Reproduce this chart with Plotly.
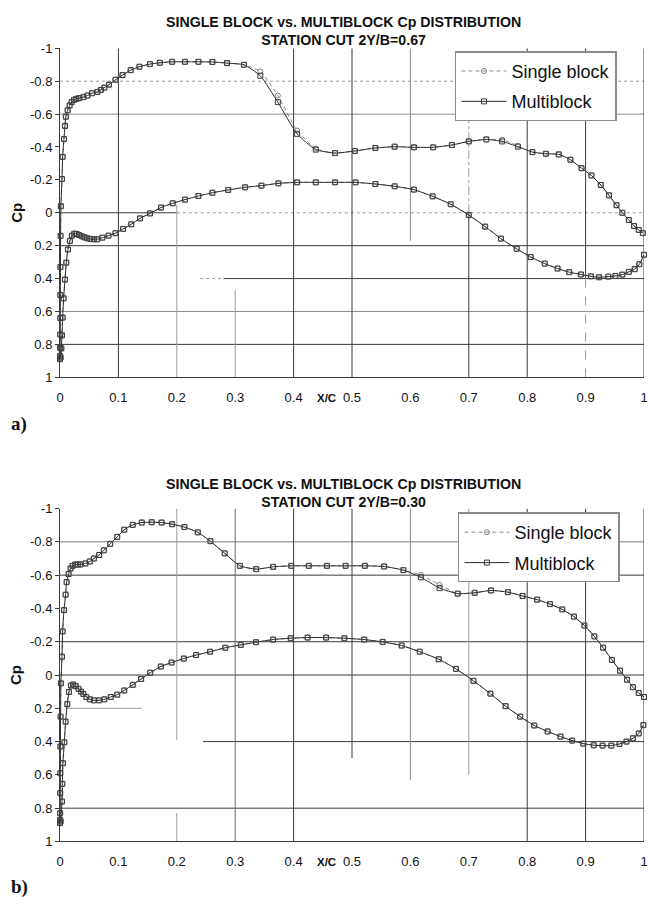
import plotly.graph_objects as go

# ---------------- DATA ----------------
# Panel a) station cut 2Y/B = 0.67
A_X_UP = [0.0, 0.0002, 0.0003, 0.0004, 0.0005, 0.0006, 0.0008, 0.0010, 0.0015,
          0.0034, 0.0045, 0.0068, 0.0085, 0.010, 0.013, 0.0165, 0.020, 0.024, 0.028,
          0.033, 0.040, 0.047, 0.055, 0.064, 0.070, 0.076, 0.084, 0.095, 0.107,
          0.121, 0.136, 0.154, 0.171, 0.192, 0.214, 0.237, 0.261, 0.286, 0.315,
          0.343, 0.373, 0.406, 0.438, 0.471, 0.505, 0.540, 0.573, 0.606, 0.639,
          0.671, 0.700, 0.730, 0.757, 0.784, 0.809, 0.832, 0.854, 0.874, 0.893,
          0.910, 0.926, 0.940, 0.953, 0.963, 0.974, 0.983, 0.991, 0.998]
A_CP_UP_MULTI = [0.89, 0.87, 0.82, 0.74, 0.64, 0.50, 0.33, 0.14, -0.04,
                 -0.205, -0.34, -0.448, -0.528, -0.584, -0.623, -0.653, -0.673, -0.687, -0.693,
                 -0.697, -0.703, -0.713, -0.727, -0.735, -0.747, -0.761, -0.779, -0.809, -0.837,
                 -0.867, -0.888, -0.904, -0.912, -0.918, -0.918, -0.918, -0.917, -0.910, -0.900,
                 -0.833, -0.673, -0.480, -0.384, -0.363, -0.376, -0.394, -0.402, -0.398, -0.398,
                 -0.412, -0.434, -0.446, -0.434, -0.402, -0.369, -0.359, -0.355, -0.323, -0.271,
                 -0.227, -0.169, -0.106, -0.046, 0.0, 0.044, 0.080, 0.104, 0.124]
A_CP_UP_SINGLE = [0.89, 0.87, 0.82, 0.74, 0.64, 0.50, 0.33, 0.14, -0.04,
                  -0.205, -0.34, -0.448, -0.528, -0.584, -0.623, -0.653, -0.673, -0.687, -0.693,
                  -0.697, -0.703, -0.713, -0.727, -0.735, -0.747, -0.761, -0.779, -0.809, -0.837,
                  -0.867, -0.888, -0.904, -0.912, -0.918, -0.918, -0.918, -0.917, -0.910, -0.900,
                  -0.859, -0.713, -0.500, -0.390, -0.363, -0.376, -0.394, -0.402, -0.398, -0.398,
                  -0.412, -0.434, -0.446, -0.444, -0.408, -0.369, -0.359, -0.355, -0.323, -0.271,
                  -0.227, -0.169, -0.106, -0.046, 0.0, 0.044, 0.080, 0.104, 0.124]
A_X_LO = [0.0010, 0.0023, 0.0034, 0.0045, 0.0062, 0.0085, 0.0108, 0.0136, 0.017, 0.0204,
          0.0244, 0.0284, 0.0329, 0.0374, 0.042, 0.0465, 0.052, 0.058, 0.0635, 0.0726,
          0.083, 0.095, 0.108, 0.122, 0.137, 0.154, 0.173, 0.193, 0.214, 0.237,
          0.261, 0.288, 0.317, 0.345, 0.374, 0.406, 0.438, 0.471, 0.506, 0.540,
          0.573, 0.606, 0.638, 0.669, 0.700, 0.728, 0.755, 0.782, 0.806, 0.830,
          0.852, 0.872, 0.892, 0.909, 0.923, 0.939, 0.951, 0.963, 0.974, 0.984,
          0.992, 1.000]
A_CP_LO_MULTI = [0.88, 0.825, 0.745, 0.637, 0.52, 0.406, 0.303, 0.223, 0.171, 0.139,
                 0.127, 0.129, 0.135, 0.143, 0.149, 0.155, 0.159, 0.161, 0.161, 0.151,
                 0.139, 0.124, 0.098, 0.070, 0.034, 0.004, -0.032, -0.058, -0.080, -0.102,
                 -0.122, -0.139, -0.155, -0.165, -0.179, -0.185, -0.185, -0.185, -0.185, -0.175,
                 -0.161, -0.141, -0.100, -0.052, 0.014, 0.084, 0.157, 0.219, 0.269, 0.309,
                 0.339, 0.361, 0.375, 0.386, 0.392, 0.388, 0.384, 0.376, 0.359, 0.343,
                 0.313, 0.255]
A_CP_LO_SINGLE = [0.88, 0.825, 0.745, 0.637, 0.52, 0.406, 0.303, 0.223, 0.171, 0.139,
                  0.127, 0.129, 0.135, 0.143, 0.149, 0.155, 0.159, 0.161, 0.161, 0.151,
                  0.139, 0.124, 0.098, 0.070, 0.034, 0.004, -0.032, -0.058, -0.080, -0.102,
                  -0.122, -0.139, -0.155, -0.165, -0.179, -0.185, -0.185, -0.185, -0.185, -0.175,
                  -0.161, -0.141, -0.100, -0.052, 0.014, 0.084, 0.157, 0.219, 0.269, 0.309,
                  0.339, 0.361, 0.375, 0.386, 0.392, 0.388, 0.384, 0.376, 0.359, 0.343,
                  0.313, 0.255]

# Panel b) station cut 2Y/B = 0.30
B_X_UP = [0.0, 0.0002, 0.0003, 0.0004, 0.0005, 0.0007, 0.0010, 0.0015, 0.0034, 0.0045,
          0.0068, 0.0096, 0.0113, 0.0147, 0.0181, 0.0215, 0.026, 0.0306, 0.035, 0.0436,
          0.051, 0.058, 0.067, 0.075, 0.086, 0.098, 0.110, 0.1245, 0.140, 0.157,
          0.174, 0.192, 0.213, 0.236, 0.2575, 0.282, 0.308, 0.336, 0.365, 0.396,
          0.426, 0.457, 0.489, 0.522, 0.555, 0.588, 0.618, 0.650, 0.681, 0.710,
          0.738, 0.767, 0.792, 0.817, 0.839, 0.860, 0.880, 0.898, 0.915, 0.930,
          0.945, 0.959, 0.971, 0.981, 0.991, 1.000]
B_CP_UP_MULTI = [0.89, 0.87, 0.83, 0.71, 0.59, 0.43, 0.25, 0.05, -0.11, -0.262,
                 -0.39, -0.483, -0.558, -0.607, -0.640, -0.656, -0.664, -0.664, -0.664, -0.670,
                 -0.682, -0.700, -0.721, -0.749, -0.788, -0.830, -0.873, -0.902, -0.916, -0.918,
                 -0.916, -0.906, -0.889, -0.857, -0.804, -0.731, -0.656, -0.636, -0.650, -0.656,
                 -0.656, -0.656, -0.656, -0.656, -0.652, -0.630, -0.587, -0.522, -0.489, -0.494,
                 -0.508, -0.498, -0.475, -0.453, -0.426, -0.394, -0.351, -0.297, -0.232, -0.164,
                 -0.091, -0.026, 0.028, 0.073, 0.108, 0.132]
B_CP_UP_SINGLE = [0.89, 0.87, 0.83, 0.71, 0.59, 0.43, 0.25, 0.05, -0.11, -0.262,
                  -0.39, -0.483, -0.558, -0.607, -0.640, -0.656, -0.664, -0.664, -0.664, -0.670,
                  -0.682, -0.700, -0.721, -0.749, -0.788, -0.830, -0.873, -0.902, -0.916, -0.918,
                  -0.916, -0.906, -0.889, -0.857, -0.804, -0.731, -0.656, -0.636, -0.650, -0.656,
                  -0.656, -0.656, -0.656, -0.656, -0.652, -0.630, -0.601, -0.542, -0.489, -0.494,
                  -0.508, -0.498, -0.475, -0.453, -0.426, -0.394, -0.351, -0.297, -0.232, -0.164,
                  -0.091, -0.026, 0.028, 0.073, 0.108, 0.132]
B_X_LO = [0.0010, 0.0034, 0.0040, 0.0050, 0.0074, 0.0096, 0.0125, 0.0153, 0.0187, 0.0226,
          0.027, 0.0317, 0.036, 0.040, 0.045, 0.051, 0.058, 0.067, 0.076, 0.087,
          0.098, 0.110, 0.1245, 0.139, 0.1545, 0.1726, 0.191, 0.212, 0.233, 0.257,
          0.283, 0.3096, 0.3356, 0.365, 0.395, 0.424, 0.4556, 0.487, 0.521, 0.5525,
          0.585, 0.616, 0.6485, 0.678, 0.708, 0.737, 0.763, 0.788, 0.812, 0.835,
          0.857, 0.877, 0.896, 0.914, 0.929, 0.944, 0.958, 0.970, 0.981, 0.991,
          0.999]
B_CP_LO_MULTI = [0.88, 0.76, 0.654, 0.53, 0.404, 0.28, 0.175, 0.102, 0.063, 0.057,
                 0.067, 0.083, 0.100, 0.114, 0.132, 0.146, 0.152, 0.152, 0.146, 0.132,
                 0.118, 0.093, 0.059, 0.024, -0.014, -0.051, -0.075, -0.099, -0.120, -0.140,
                 -0.164, -0.181, -0.197, -0.213, -0.221, -0.225, -0.225, -0.221, -0.213, -0.199,
                 -0.177, -0.140, -0.095, -0.037, 0.035, 0.112, 0.187, 0.250, 0.303, 0.339,
                 0.370, 0.394, 0.412, 0.422, 0.424, 0.424, 0.414, 0.400, 0.380, 0.351,
                 0.301]
B_CP_LO_SINGLE = [0.88, 0.76, 0.654, 0.53, 0.404, 0.28, 0.175, 0.102, 0.063, 0.057,
                  0.067, 0.083, 0.100, 0.114, 0.132, 0.146, 0.152, 0.152, 0.146, 0.132,
                  0.118, 0.093, 0.059, 0.024, -0.014, -0.051, -0.075, -0.099, -0.120, -0.140,
                  -0.164, -0.181, -0.197, -0.213, -0.221, -0.225, -0.225, -0.221, -0.213, -0.199,
                  -0.177, -0.140, -0.095, -0.037, 0.035, 0.112, 0.187, 0.250, 0.303, 0.339,
                  0.370, 0.394, 0.412, 0.422, 0.424, 0.424, 0.414, 0.400, 0.380, 0.351,
                  0.301]

X_TICKS = [0, 0.1, 0.2, 0.3, 0.4, 0.5, 0.6, 0.7, 0.8, 0.9, 1]
X_TICK_TEXT = ["0", "0.1", "0.2", "0.3", "0.4", "0.5", "0.6", "0.7", "0.8", "0.9", "1"]
Y_TICKS = [-1, -0.8, -0.6, -0.4, -0.2, 0, 0.2, 0.4, 0.6, 0.8, 1]
Y_TICK_TEXT = ["-1", "-0.8", "-0.6", "-0.4", "-0.2", "0", "0.2", "0.4", "0.6", "0.8", "1"]

TITLE_A = ["SINGLE BLOCK vs. MULTIBLOCK Cp DISTRIBUTION", "STATION CUT 2Y/B=0.67"]
TITLE_B = ["SINGLE BLOCK vs. MULTIBLOCK Cp DISTRIBUTION", "STATION CUT 2Y/B=0.30"]
SERIES_NAMES = ["Single block", "Multiblock"]

# ---------------- STYLE ----------------
FONT = "Liberation Sans, Arial, sans-serif"
SERIF = "Liberation Serif, Times New Roman, serif"
W, H = 648, 907
L_MARGIN, R_MARGIN = 60, 1
DARK = "#3a3a3a"
GRAY = "#9a9a9a"


def px_x(px):
    return (px - L_MARGIN) / (W - L_MARGIN - R_MARGIN)


def px_y(py):
    return 1 - py / H


def loop(xu, cu, xl, cl):
    return list(reversed(xu)) + list(xl), list(reversed(cu)) + list(cl)


fig = go.Figure()

panels = [
    ("x", "y", "legend", A_X_UP, A_CP_UP_SINGLE, A_CP_UP_MULTI, A_X_LO, A_CP_LO_SINGLE, A_CP_LO_MULTI),
    ("x2", "y2", "legend2", B_X_UP, B_CP_UP_SINGLE, B_CP_UP_MULTI, B_X_LO, B_CP_LO_SINGLE, B_CP_LO_MULTI),
]
for xr, yr, leg, xu, cus, cum, xl, cls, clm in panels:
    xs, ys = loop(xu, cus, xl, cls)
    fig.add_trace(go.Scatter(
        x=xs, y=ys, xaxis=xr, yaxis=yr, legend=leg, name=SERIES_NAMES[0],
        legendgroup=leg + "s", mode="lines+markers", cliponaxis=False,
        line=dict(color="#8c8c8c", width=1, dash="4px,3px", shape="spline", smoothing=0.5),
        marker=dict(symbol="circle-open", size=5, color="#808080", line=dict(width=1)),
    ))
    xm, ym = loop(xu, cum, xl, clm)
    fig.add_trace(go.Scatter(
        x=xm, y=ym, xaxis=xr, yaxis=yr, legend=leg, name=SERIES_NAMES[1],
        legendgroup=leg + "m", mode="lines+markers", cliponaxis=False,
        line=dict(color="#2b2b2b", width=1, shape="spline", smoothing=0.5),
        marker=dict(symbol="square-open", size=5, color="#3c3c3c", line=dict(width=1)),
    ))

# grid segments (x0, y0, x1, y1, color, dash) in data units, per panel
GRID_A = [
    (0, -0.8, 1, -0.8, GRAY, "dot"),
    (0, -0.6, 1, -0.6, "#8a8a8a", "solid"),
    (0, 0, 0.2, 0, DARK, "solid"),
    (0.2, 0, 1, 0, GRAY, "dot"),
    (0, 0.2, 1, 0.2, DARK, "solid"),
    (0.24, 0.4, 0.28, 0.4, GRAY, "dot"),
    (0.28, 0.4, 1, 0.4, DARK, "solid"),
    (0, 0.6, 1, 0.6, "#8a8a8a", "solid"),
    (0, 0.8, 1, 0.8, DARK, "solid"),
    (0.1, -1, 0.1, 1, DARK, "solid"),
    (0.2, -0.05, 0.2, 1, GRAY, "solid"),
    (0.3, 0.47, 0.3, 1, GRAY, "solid"),
    (0.4, -1, 0.4, 1, DARK, "solid"),
    (0.5, -1, 0.5, 1, DARK, "solid"),
    (0.6, -1, 0.6, 0.17, "#8a8a8a", "solid"),
    (0.7, -0.6, 0.7, 0, GRAY, "dashdot"),
    (0.7, 0, 0.7, 1, DARK, "solid"),
    (0.8, -1, 0.8, 1, DARK, "solid"),
    (0.9, -1, 0.9, 0.4, DARK, "solid"),
    (0.9, 0.4, 0.9, 1, GRAY, "dash"),
    (1, -1, 1, 1, DARK, "solid"),
]
GRID_B = [
    (0, -0.8, 1, -0.8, "#7a7a7a", "solid"),
    (0, -0.6, 1, -0.6, DARK, "solid"),
    (0, -0.2, 1, -0.2, DARK, "solid"),
    (0, 0, 1, 0, DARK, "solid"),
    (0.01, 0.2, 0.14, 0.2, GRAY, "solid"),
    (0.245, 0.4, 1, 0.4, DARK, "solid"),
    (0, 0.8, 1, 0.8, DARK, "solid"),
    (0.2, -1, 0.2, 0.39, GRAY, "solid"),
    (0.2, 0.83, 0.2, 1, GRAY, "solid"),
    (0.3, -1, 0.3, 1, "#6a6a6a", "solid"),
    (0.4, -1, 0.4, 1, DARK, "solid"),
    (0.5, -1, 0.5, 0.5, DARK, "solid"),
    (0.6, -1, 0.6, 0.63, "#8a8a8a", "solid"),
    (0.7, -1, 0.7, 0.6, GRAY, "solid"),
    (0.8, -1, 0.8, 1, DARK, "solid"),
    (0.9, -1, 0.9, 1, DARK, "solid"),
    (1, -1, 1, 1, DARK, "solid"),
]
shapes = []
for (xr, yr), grid in ((("x", "y"), GRID_A), (("x2", "y2"), GRID_B)):
    for x0, y0, x1, y1, col, dash in grid:
        shapes.append(dict(type="line", xref=xr, yref=yr, x0=x0, y0=y0, x1=x1, y1=y1,
                           line=dict(color=col, width=1, dash=dash), layer="below"))

DOM_A = [px_y(376.5), px_y(42)]
DOM_B = [px_y(848.5), px_y(510)]

xax = dict(range=[0, 1], tickvals=X_TICKS, ticktext=X_TICK_TEXT, showgrid=False, zeroline=False,
           showline=True, linecolor=DARK, linewidth=1, ticks="outside", ticklen=8,
           tickcolor="rgba(0,0,0,0)", tickfont=dict(family=FONT, size=13, color="#111"),
           ticklabeloverflow="allow", domain=[0, 1], fixedrange=True)
yax = dict(range=[1, -1], tickvals=Y_TICKS, ticktext=Y_TICK_TEXT, showgrid=False, zeroline=False,
           showline=True, linecolor=DARK, linewidth=1, ticks="outside", ticklen=4, tickcolor=DARK,
           tickfont=dict(family=FONT, size=13, color="#111"), fixedrange=True)

legend_style = dict(xanchor="left", yanchor="top", bgcolor="white", bordercolor="#8a8a8a",
                    borderwidth=1.5, font=dict(family=FONT, size=18, color="#111"),
                    itemwidth=45, tracegroupgap=4)

annotations = []
for title, ymid, xc_y, cp_y, lab, lab_y in ((TITLE_A, 24, 398, 209, "a)", 424),
                                           (TITLE_B, 494, 869, 679, "b)", 895)):
    annotations.append(dict(xref="paper", yref="paper", x=px_x(345), y=px_y(ymid),
                            text="<b>" + title[0] + "</b><br><b>" + title[1] + "</b>",
                            showarrow=False, font=dict(family=FONT, size=14.2, color="#111"),
                            xanchor="center", yanchor="middle"))
    annotations.append(dict(xref="paper", yref="paper", x=px_x(328), y=px_y(xc_y),
                            text="<b>X/C</b>", showarrow=False,
                            font=dict(family=FONT, size=11.5, color="#111"),
                            xanchor="center", yanchor="middle"))
    annotations.append(dict(xref="paper", yref="paper", x=px_x(16), y=px_y(cp_y),
                            text="<b>Cp</b>", showarrow=False, textangle=-90,
                            font=dict(family=FONT, size=15, color="#111"),
                            xanchor="center", yanchor="middle"))
    annotations.append(dict(xref="paper", yref="paper", x=px_x(9), y=px_y(lab_y),
                            text="<b>" + lab + "</b>", showarrow=False,
                            font=dict(family=SERIF, size=19, color="#111"),
                            xanchor="left", yanchor="middle"))

fig.update_layout(
    width=W, height=H,
    margin=dict(l=L_MARGIN, r=R_MARGIN, t=0, b=0),
    paper_bgcolor="white", plot_bgcolor="white",
    xaxis=dict(xax, anchor="y"),
    yaxis=dict(yax, domain=DOM_A, anchor="x"),
    xaxis2=dict(xax, anchor="y2"),
    yaxis2=dict(yax, domain=DOM_B, anchor="x2"),
    legend=dict(legend_style, x=px_x(457), y=px_y(45)),
    legend2=dict(legend_style, x=px_x(460), y=px_y(514)),
    shapes=shapes,
    annotations=annotations,
    showlegend=True,
)

fig.write_html("out.html")
